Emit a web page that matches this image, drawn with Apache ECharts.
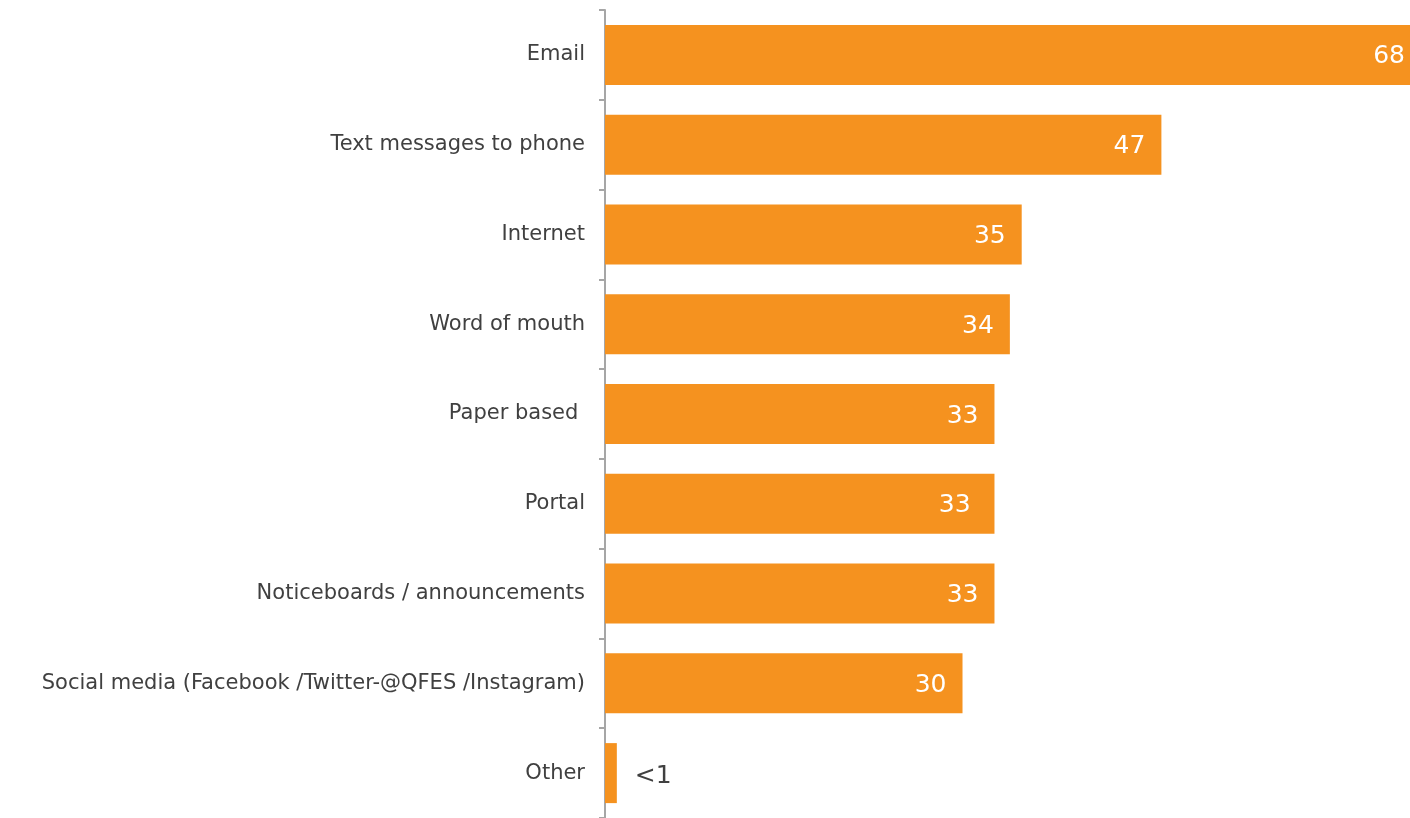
<!DOCTYPE html>
<html>
<head>
<meta charset="utf-8">
<script src="https://cdn.jsdelivr.net/npm/echarts@6/dist/echarts.min.js"></script>
<style>html,body{margin:0;padding:0;background:#fff}#c{width:1410px;height:818px}</style>
</head>
<body>
<div id="c"></div>
<script>
const categories = ["Email","Text messages to phone","Internet","Word of mouth","Paper based ","Portal","Noticeboards / announcements","Social media (Facebook /Twitter-@QFES /Instagram)","Other"];
const values = [68, 47, 35.2, 34.2, 32.9, 32.9, 32.9, 30.2, 1.0];
const valueLabels = ["68","47","35","34","33","33 ","33","30","<1"];

const chart = echarts.init(document.getElementById('c'), null, {renderer:'canvas'});
const data = values.map((v,i)=>{
  const d = {value:v};
  if (i === 0) d.label = {distance:5};
  if (i === values.length-1) {
    d.label = {position:'right', color:'#404040', distance:18, offset:[0,3]};
  }
  return d;
});
chart.setOption({
  animation:false,
  grid:{left:605, right:0, top:10, bottom:-2, containLabel:false},
  xAxis:{type:'value', min:0, max:68, show:false},
  yAxis:{
    type:'category', data:categories, inverse:true,
    axisLine:{show:true, lineStyle:{color:'#A6A6A6', width:2}},
    axisTick:{show:true, length:6, lineStyle:{color:'#A6A6A6', width:2}},
    axisLabel:{color:'#404040', fontSize:21, fontFamily:'DejaVu Sans', margin:20, padding:[3,0,0,0]}
  },
  series:[{
    type:'bar', data:data, barWidth:60,
    itemStyle:{color:'#F5921F'},
    label:{show:true, position:'insideRight', distance:16, offset:[0,2], color:'#fff', fontSize:25, fontFamily:'DejaVu Sans',
      formatter:p=>valueLabels[p.dataIndex]}
  }]
});
</script>
</body>
</html>
